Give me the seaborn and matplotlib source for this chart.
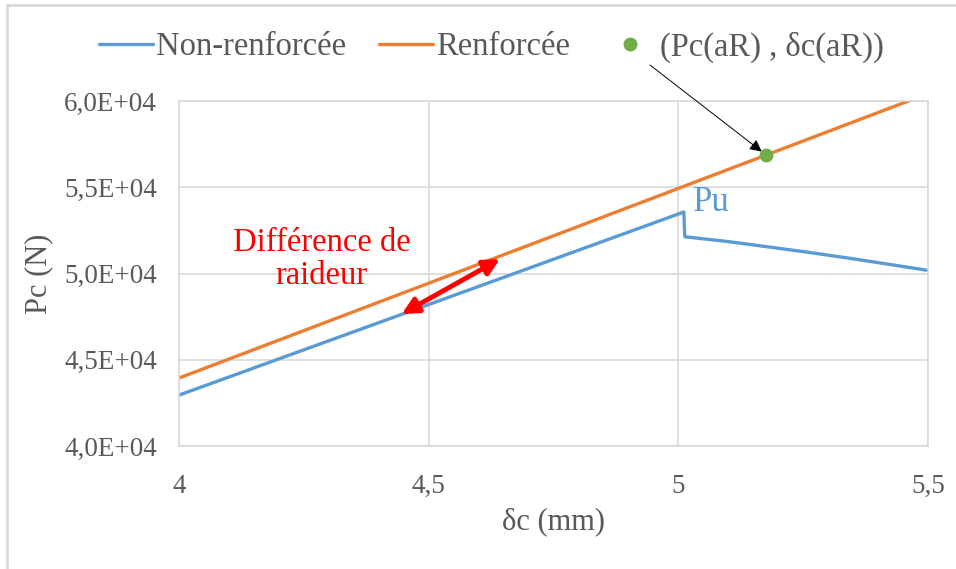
import matplotlib
matplotlib.use("Agg")
import pandas as pd
import seaborn as sns
import matplotlib.pyplot as plt
from matplotlib.lines import Line2D

# data
non_renf_x = [4.0, 5.011, 5.013, 5.10, 5.178, 5.26, 5.344, 5.42, 5.5]
non_renf_y = [42950, 53565, 52130, 51850, 51550, 51230, 50880, 50540, 50180]
renf_x = [4.0, 5.5]
renf_y = [43940, 60430]
point_x = [5.176]
point_y = [56870]

x_ticks = [4.0, 4.5, 5.0, 5.5]
x_ticklabels = ['4', '4,5', '5', '5,5']
y_ticks = [40000, 45000, 50000, 55000, 60000]
y_ticklabels = ['4,0E+04', '4,5E+04', '5,0E+04', '5,5E+04', '6,0E+04']

blue = '#5B9BD5'
orange = '#ED7D31'
green = '#70AD47'
grey_txt = '#595959'
grid_c = '#D9D9D9'

sns.set_style('white')
plt.rcParams['font.family'] = ['Liberation Serif', 'DejaVu Serif']

df_a = pd.DataFrame({'x': non_renf_x, 'y': non_renf_y})
df_b = pd.DataFrame({'x': renf_x, 'y': renf_y})

fig = plt.figure(figsize=(9.56, 5.69), dpi=100)
ax = fig.add_axes([179 / 956, 123 / 569, 749 / 956, 345 / 569])

sns.lineplot(data=df_a, x='x', y='y', ax=ax, color=blue, lw=2.4, sort=False,
             label='Non-renforcée')
sns.lineplot(data=df_b, x='x', y='y', ax=ax, color=orange, lw=2.4, sort=False,
             label='Renforcée')
ax.plot(point_x, point_y, 'o', color=green, ms=9, zorder=5, lw=0,
        label='(Pc(aR) , δc(aR))')

ax.set_xlim(4, 5.5)
ax.set_ylim(40000, 60000)
ax.set_xticks(x_ticks)
ax.set_xticklabels(x_ticklabels)
ax.set_yticks(y_ticks)
ax.set_yticklabels(y_ticklabels)
ax.tick_params(axis='both', length=0, labelsize=19.5, colors=grey_txt)
ax.tick_params(axis='x', pad=20)
ax.tick_params(axis='y', pad=16)
ax.grid(True, color=grid_c, lw=1.2)
for s in ax.spines.values():
    s.set_color(grid_c)
    s.set_linewidth(1.2)

ax.set_xlabel('δc (mm)', fontsize=22, color=grey_txt, labelpad=6)
ax.set_ylabel('Pc (N)', fontsize=22, color=grey_txt, labelpad=8)

# annotations
ax.text(4.286, 50850, 'Différence de\nraideur', color='red', fontsize=23.5,
        ha='center', va='center', linespacing=1.1)
ax.annotate('', xy=(4.446, 47650), xytext=(4.643, 50840),
            arrowprops=dict(arrowstyle='<|-|>', color='red', lw=3.5,
                            mutation_scale=24, shrinkA=0, shrinkB=0))
ax.text(5.03, 54100, 'Pu', color=blue, fontsize=25, ha='left', va='center')
ax.annotate('', xy=(point_x[0], point_y[0]), xytext=(650, 504),
            textcoords='figure pixels',
            arrowprops=dict(arrowstyle='-|>', color='black', lw=0.7,
                            mutation_scale=18, shrinkA=0, shrinkB=4))

h, l = ax.get_legend_handles_labels()
ax.get_legend().remove()
fig.legend(h, l, loc='center left', bbox_to_anchor=(70 / 956, 1 - 47 / 569),
           ncol=3, frameon=False, fontsize=23.5, labelcolor=grey_txt,
           handlelength=1.65, handletextpad=0.1, columnspacing=1.0)

# chart area border (top and left visible)
fig.add_artist(Line2D([7 / 956, 1], [1 - 5 / 569, 1 - 5 / 569],
                      color=grid_c, lw=2, transform=fig.transFigure))
fig.add_artist(Line2D([7 / 956, 7 / 956], [0, 1 - 5 / 569],
                      color=grid_c, lw=2, transform=fig.transFigure))

fig.savefig('out.png', dpi=100)
